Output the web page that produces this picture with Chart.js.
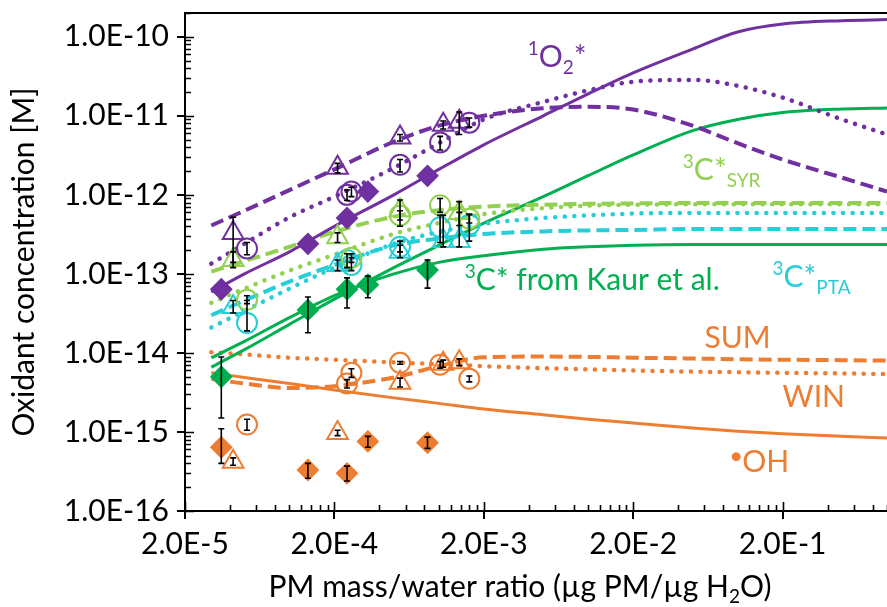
<!DOCTYPE html>
<html>
<head>
<meta charset="utf-8">
<script src="https://cdn.jsdelivr.net/npm/chart.js@4.4.0/dist/chart.umd.min.js"></script>
<style>
  html, body { margin: 0; padding: 0; background: #fff; }
</style>
</head>
<body>
<canvas id="oxChart" width="887" height="607"></canvas>
<script>
// axis ticks
const xTickValues = [2e-5, 2e-4, 2e-3, 2e-2, 2e-1];
const xTickLabels = ['2.0E-5', '2.0E-4', '2.0E-3', '2.0E-2', '2.0E-1'];
const yTickValues = [1e-16, 1e-15, 1e-14, 1e-13, 1e-12, 1e-11, 1e-10];
const yTickLabels = ['1.0E-16', '1.0E-15', '1.0E-14', '1.0E-13', '1.0E-12', '1.0E-11', '1.0E-10'];

// model curves, all on the same PM/water grid
const modelX = [3e-5, 5e-5, 1e-4, 2e-4, 5e-4, 1e-3, 2e-3, 5e-3, 1e-2, 2e-2, 5e-2, 1e-1, 2e-1, 5e-1, 1];
const o2Solid = [5.9e-14, 1.0e-13, 1.9e-13, 4.0e-13, 1.0e-12, 2.1e-12, 4.3e-12, 1.0e-11, 1.9e-11, 3.5e-11, 7.0e-11, 1.15e-10, 1.45e-10, 1.6e-10, 1.65e-10];
const o2Dash = [4.1e-13, 6.3e-13, 1.15e-12, 2.1e-12, 4.7e-12, 7.5e-12, 1.0e-11, 1.25e-11, 1.3e-11, 1.2e-11, 7.5e-12, 4.5e-12, 2.8e-12, 1.65e-12, 1.1e-12];
const o2Dot = [1.35e-13, 2.4e-13, 5.2e-13, 9.5e-13, 2.2e-12, 4.5e-12, 9.0e-12, 1.5e-11, 2.1e-11, 2.7e-11, 2.85e-11, 2.4e-11, 1.7e-11, 9.0e-12, 5.8e-12];
const syrDash = [1.07e-13, 1.45e-13, 2.2e-13, 3.4e-13, 5.3e-13, 6.4e-13, 7.1e-13, 7.5e-13, 7.7e-13, 7.8e-13, 7.9e-13, 7.9e-13, 7.9e-13, 7.9e-13, 7.9e-13];
const syrDot = [4.3e-14, 6.5e-14, 1.1e-13, 1.75e-13, 3.2e-13, 4.4e-13, 5.7e-13, 6.8e-13, 7.3e-13, 7.5e-13, 7.6e-13, 7.6e-13, 7.6e-13, 7.6e-13, 7.6e-13];
const ptaDash = [3.0e-14, 4.6e-14, 8.0e-14, 1.3e-13, 2.3e-13, 2.8e-13, 3.2e-13, 3.45e-13, 3.55e-13, 3.6e-13, 3.7e-13, 3.7e-13, 3.7e-13, 3.7e-13, 3.7e-13];
const ptaDot = [2.1e-14, 3.4e-14, 6.5e-14, 1.2e-13, 2.4e-13, 3.4e-13, 4.3e-13, 5.1e-13, 5.5e-13, 5.8e-13, 5.9e-13, 5.9e-13, 5.9e-13, 5.9e-13, 5.9e-13];
const kaurFit = [8.7e-15, 1.4e-14, 2.8e-14, 5.3e-14, 1.0e-13, 1.4e-13, 1.7e-13, 2.05e-13, 2.2e-13, 2.3e-13, 2.35e-13, 2.35e-13, 2.35e-13, 2.35e-13, 2.35e-13];
const kaurSteep = [6.6e-15, 1.1e-14, 2.3e-14, 4.8e-14, 1.2e-13, 2.3e-13, 4.4e-13, 9.5e-13, 1.75e-12, 3.2e-12, 6.5e-12, 9.0e-12, 1.1e-11, 1.22e-11, 1.26e-11];
const ohSolid = [5.6e-15, 4.9e-15, 4.1e-15, 3.4e-15, 2.7e-15, 2.3e-15, 1.95e-15, 1.65e-15, 1.45e-15, 1.3e-15, 1.12e-15, 1.02e-15, 9.5e-16, 8.8e-16, 8.4e-16];
const ohDash = [4.7e-15, 4.1e-15, 3.6e-15, 3.8e-15, 4.9e-15, 6.8e-15, 8.8e-15, 9.0e-15, 8.9e-15, 8.7e-15, 8.5e-15, 8.3e-15, 8.2e-15, 8.1e-15, 8.0e-15];
const ohDot = [1.02e-14, 9.6e-15, 8.7e-15, 8.2e-15, 7.6e-15, 7.2e-15, 6.8e-15, 6.4e-15, 6.2e-15, 6.0e-15, 5.8e-15, 5.7e-15, 5.6e-15, 5.5e-15, 5.4e-15];

// measured points (diamonds, triangles, circles) with error bar ends
const diaX = [3.5e-5, 1.33e-4, 2.43e-4, 3.35e-4, 8.4e-4];
const triX = [4.2e-5, 2.1e-4, 5.5e-4, 1.07e-3, 1.37e-3];
const cirX = [5.2e-5, 2.43e-4, 2.6e-4, 5.5e-4, 1.02e-3, 1.6e-3];

const o2DiaY = [6.4e-14, 2.4e-13, 5.1e-13, 1.1e-12, 1.74e-12];
const o2TriY = [3.3e-13, 2.2e-12, 5.3e-12, 7.7e-12, 8.4e-12];
const o2TriLo = [1.4e-13, 1.9e-12, 4.8e-12, 6.8e-12, 5.8e-12];
const o2TriHi = [5.2e-13, 2.5e-12, 5.8e-12, 8.6e-12, 1.12e-11];
const o2CirY = [2.1e-13, 1.0e-12, 1.1e-12, 2.4e-12, 4.6e-12, 8.2e-12];
const o2CirLo = [1.75e-13, 0.85e-12, 0.95e-12, 1.95e-12, 3.7e-12, 7.2e-12];
const o2CirHi = [2.5e-13, 1.15e-12, 1.25e-12, 2.8e-12, 5.5e-12, 9.4e-12];

const syrTriX = [4.2e-5, 2.1e-4, 5.5e-4, 1.37e-3];
const syrTriY = [1.5e-13, 2.9e-13, 6.4e-13, 5.9e-13];
const syrTriLo = [1.2e-13, 2.5e-13, 4.0e-13, 4.1e-13];
const syrTriHi = [1.9e-13, 3.3e-13, 8.6e-13, 8.2e-13];
const syrCirX = [5.2e-5, 2.6e-4, 5.5e-4, 1.02e-3, 1.6e-3];
const syrCirY = [4.7e-14, 1.6e-13, 5.5e-13, 7.4e-13, 5.0e-13];
const syrCirLo = [4.2e-14, 1.4e-13, 4.8e-13, 6.0e-13, 4.4e-13];
const syrCirHi = [5.3e-14, 1.8e-13, 6.3e-13, 9.0e-13, 5.7e-13];

const ptaTriY = [3.8e-14, 1.3e-13, 1.9e-13, 2.6e-13, 2.6e-13];
const ptaTriLo = [3.2e-14, 1.1e-13, 1.6e-13, 2.2e-13, 2.2e-13];
const ptaTriHi = [4.6e-14, 1.5e-13, 2.3e-13, 5.5e-13, 6.0e-13];
const ptaCirY = [2.4e-14, 1.5e-13, 1.3e-13, 2.2e-13, 3.9e-13, 4.2e-13];
const ptaCirLo = [1.9e-14, 1.2e-13, 1.1e-13, 1.9e-13, 2.5e-13, 2.6e-13];
const ptaCirHi = [4.6e-14, 1.8e-13, 1.6e-13, 2.6e-13, 5.5e-13, 5.6e-13];

const kaurY = [5.0e-15, 3.5e-14, 6.4e-14, 7.3e-14, 1.12e-13];
const kaurLo = [1.5e-15, 1.8e-14, 3.7e-14, 5.0e-14, 6.6e-14];
const kaurHi = [8.9e-15, 5.1e-14, 8.9e-14, 9.4e-14, 1.5e-13];

const ohDiaY = [6.4e-16, 3.3e-16, 3.0e-16, 7.6e-16, 7.3e-16];
const ohDiaLo = [4.0e-16, 2.6e-16, 2.4e-16, 6.4e-16, 6.2e-16];
const ohDiaHi = [1.1e-15, 4.0e-16, 3.7e-16, 8.8e-16, 8.6e-16];
const ohTriY = [4.2e-16, 9.7e-16, 4.2e-15, 7.3e-15, 7.6e-15];
const ohTriLo = [3.8e-16, 9.0e-16, 3.7e-15, 6.6e-15, 6.9e-15];
const ohTriHi = [4.7e-16, 1.05e-15, 4.8e-15, 8.1e-15, 8.4e-15];
const ohCirY = [1.24e-15, 4.1e-15, 5.6e-15, 7.5e-15, 7.1e-15, 4.7e-15];
const ohCirLo = [1.05e-15, 3.6e-15, 4.9e-15, 7.2e-15, 6.4e-15, 4.3e-15];
const ohCirHi = [1.45e-15, 4.6e-15, 6.3e-15, 7.8e-15, 7.8e-15, 5.1e-15];

const PURPLE = '#7030A0';
const LGREEN = '#92D050';
const CYAN = '#27CED7';
const GREEN = '#00B050';
const ORANGE = '#ED7D31';
const FONT = 'Lato, "Noto Sans", sans-serif';

const pts = (xs, ys) => xs.map((x, i) => ({ x: x, y: ys[i] }));

function curve(ys, color, style) {
  const ds = {
    data: pts(modelX, ys),
    borderColor: color,
    borderWidth: 3,
    pointRadius: 0,
    fill: false,
    cubicInterpolationMode: 'monotone',
    order: 2
  };
  if (style === 'dash') { ds.borderDash = [13, 6]; ds.borderWidth = 4; }
  if (style === 'dot') { ds.borderDash = [0.1, 9.5]; ds.borderWidth = 4.5; ds.borderCapStyle = 'round'; }
  return ds;
}

function marks(xs, ys, color, shape, lo, hi) {
  const filled = shape === 'rectRot';
  return {
    data: pts(xs, ys),
    showLine: false,
    borderColor: color,
    pointStyle: shape,
    pointRadius: shape === 'triangle' ? 12 : 10,
    pointBorderWidth: 2,
    pointBorderColor: color,
    pointBackgroundColor: filled ? color : 'rgba(255,255,255,0)',
    errLo: lo,
    errHi: hi,
    order: 1
  };
}

// vertical error bars, drawn in data space
const errorBars = {
  id: 'errorBars',
  afterDatasetsDraw(chart) {
    const { ctx } = chart;
    const yS = chart.scales.y;
    ctx.save();
    ctx.strokeStyle = '#000';
    ctx.lineWidth = 1.6;
    chart.data.datasets.forEach((ds, i) => {
      if (!ds.errLo) return;
      const meta = chart.getDatasetMeta(i);
      meta.data.forEach((p, j) => {
        const top = yS.getPixelForValue(ds.errHi[j]);
        const bot = yS.getPixelForValue(ds.errLo[j]);
        ctx.beginPath();
        ctx.moveTo(p.x, top); ctx.lineTo(p.x, bot);
        ctx.moveTo(p.x - 3, top); ctx.lineTo(p.x + 3, top);
        ctx.moveTo(p.x - 3, bot); ctx.lineTo(p.x + 3, bot);
        ctx.stroke();
      });
    });
    ctx.restore();
  }
};

// inner minor/major ticks, the top frame line and the x title
const axisMarks = {
  id: 'axisMarks',
  afterDatasetsDraw(chart) {
    const { ctx, chartArea: a } = chart;
    const xS = chart.scales.x, yS = chart.scales.y;
    ctx.save();
    ctx.strokeStyle = '#000';
    ctx.beginPath();
    ctx.lineWidth = 2;
    ctx.moveTo(a.left, a.top); ctx.lineTo(a.right, a.top);
    ctx.stroke();
    ctx.lineWidth = 1.6;
    ctx.beginPath();
    for (let e = -16; e <= -10; e++) {
      for (let k = 1; k <= 9; k++) {
        const v = k * Math.pow(10, e);
        if (v > yS.max) break;
        const py = Math.round(yS.getPixelForValue(v)) + 0.5;
        ctx.moveTo(a.left, py); ctx.lineTo(a.left + (k === 1 ? 9 : 6), py);
      }
    }
    for (let e = -5; e <= -1; e++) {
      for (let k = 1; k <= 9; k++) {
        const v = 2 * k * Math.pow(10, e);
        if (v > xS.max) break;
        const px = Math.round(xS.getPixelForValue(v)) + 0.5;
        ctx.moveTo(px, a.bottom); ctx.lineTo(px, a.bottom - (k === 1 ? 9 : 6));
      }
    }
    ctx.stroke();

    // x axis title with a real subscript
    const parts = [['PM mass/water ratio (µg PM/µg H', 30, 0], ['2', 19, 6], ['O)', 30, 0]];
    let w = 0;
    parts.forEach(([t, s]) => { ctx.font = s + 'px ' + FONT; w += ctx.measureText(t).width; });
    let px = (a.left + a.right) / 2 - 16 - w / 2;
    const base = chart.height - 10;
    ctx.fillStyle = '#000';
    ctx.textBaseline = 'alphabetic';
    parts.forEach(([t, s, dy]) => {
      ctx.font = s + 'px ' + FONT;
      ctx.fillText(t, px, base + dy);
      px += ctx.measureText(t).width;
    });
    ctx.restore();
  }
};

// curve names with super/subscripts, anchored in data space
const labels = [
  { x: 3.94e-3, y: 4.2e-11, color: PURPLE, parts: [['1', 'sup'], ['O', ''], ['2', 'sub'], ['*', '']] },
  { x: 4.29e-2, y: 1.55e-12, color: LGREEN, parts: [['3', 'sup'], ['C*', ''], ['SYR', 'sub']] },
  { x: 1.49e-3, y: 6.3e-14, color: GREEN, parts: [['3', 'sup'], ['C* from Kaur et al.', '']] },
  { x: 0.171, y: 6.8e-14, color: CYAN, parts: [['3', 'sup'], ['C*', ''], ['PTA', 'sub']] },
  { x: 6.0e-2, y: 1.16e-14, color: ORANGE, parts: [['SUM', '']] },
  { x: 0.2, y: 2.07e-15, color: ORANGE, parts: [['WIN', '']] },
  { x: 8.8e-2, y: 3.1e-16, color: ORANGE, parts: [['\u2022', 'dot'], ['OH', '']] }
];

const curveLabels = {
  id: 'curveLabels',
  afterDraw(chart) {
    const { ctx } = chart;
    ctx.save();
    ctx.textBaseline = 'alphabetic';
    ctx.textAlign = 'left';
    labels.forEach(l => {
      let px = chart.scales.x.getPixelForValue(l.x);
      const py = chart.scales.y.getPixelForValue(l.y);
      ctx.fillStyle = l.color;
      l.parts.forEach(([t, kind]) => {
        let size = 30, dy = 0;
        if (kind === 'sup') { size = 19; dy = -12; }
        if (kind === 'sub') { size = 19; dy = 7; }
        if (kind === 'dot') { size = 24; dy = -8; }
        ctx.font = size + 'px ' + FONT;
        ctx.fillText(t, px, py + dy);
        px += ctx.measureText(t).width + (kind === 'dot' ? -1 : 0);
      });
    });
    ctx.restore();
  }
};

const datasets = [
  curve(o2Solid, PURPLE, 'solid'),
  curve(o2Dash, PURPLE, 'dash'),
  curve(o2Dot, PURPLE, 'dot'),
  curve(syrDash, LGREEN, 'dash'),
  curve(syrDot, LGREEN, 'dot'),
  curve(ptaDash, CYAN, 'dash'),
  curve(ptaDot, CYAN, 'dot'),
  curve(kaurFit, GREEN, 'solid'),
  curve(kaurSteep, GREEN, 'solid'),
  curve(ohSolid, ORANGE, 'solid'),
  curve(ohDash, ORANGE, 'dash'),
  curve(ohDot, ORANGE, 'dot'),
  marks(diaX, o2DiaY, PURPLE, 'rectRot', null, null),
  marks(triX, o2TriY, PURPLE, 'triangle', o2TriLo, o2TriHi),
  marks(cirX, o2CirY, PURPLE, 'circle', o2CirLo, o2CirHi),
  marks(syrTriX, syrTriY, LGREEN, 'triangle', syrTriLo, syrTriHi),
  marks(syrCirX, syrCirY, LGREEN, 'circle', syrCirLo, syrCirHi),
  marks(triX, ptaTriY, CYAN, 'triangle', ptaTriLo, ptaTriHi),
  marks(cirX, ptaCirY, CYAN, 'circle', ptaCirLo, ptaCirHi),
  marks(diaX, kaurY, GREEN, 'rectRot', kaurLo, kaurHi),
  marks(diaX, ohDiaY, ORANGE, 'rectRot', ohDiaLo, ohDiaHi),
  marks(triX, ohTriY, ORANGE, 'triangle', ohTriLo, ohTriHi),
  marks(cirX, ohCirY, ORANGE, 'circle', ohCirLo, ohCirHi)
];

const ctx = document.getElementById('oxChart').getContext('2d');
const oxChart = new Chart(ctx, {
  type: 'line',
  data: { datasets: datasets },
  plugins: [axisMarks, errorBars, curveLabels],
  options: {
    responsive: false,
    animation: false,
    layout: { autoPadding: false, padding: { top: 13, left: 0, right: 0, bottom: 0 } },
    plugins: { legend: { display: false }, tooltip: { enabled: false } },
    scales: {
      x: {
        type: 'logarithmic',
        min: 2e-5,
        max: 1,
        afterBuildTicks: s => { s.ticks = xTickValues.map(v => ({ value: v })); },
        afterFit: s => { s.height = 96; s.paddingLeft = 0; s.paddingRight = 0; },
        ticks: {
          autoSkip: false, maxRotation: 0, padding: 7, color: '#000',
          font: { family: FONT, size: 30 },
          callback: (v, i) => xTickLabels[i]
        },
        grid: { drawOnChartArea: false, drawTicks: true, tickLength: 8, color: '#000', lineWidth: 2 },
        border: { display: true, color: '#000', width: 2 },
        title: { display: false }
      },
      y: {
        type: 'logarithmic',
        min: 1e-16,
        max: 2e-10,
        afterBuildTicks: s => { s.ticks = yTickValues.map(v => ({ value: v })); },
        afterFit: s => { s.width = 185; s.paddingTop = 0; s.paddingBottom = 0; },
        ticks: {
          autoSkip: false, padding: 8, color: '#000',
          font: { family: FONT, size: 30 },
          callback: (v, i) => yTickLabels[i]
        },
        grid: { drawOnChartArea: false, drawTicks: true, tickLength: 8, color: '#000', lineWidth: 2 },
        border: { display: true, color: '#000', width: 2 },
        title: {
          display: true, text: 'Oxidant concentration [M]', color: '#000',
          font: { family: FONT, size: 30 }, padding: { top: 6, bottom: 0 }
        }
      }
    }
  }
});
</script>
</body>
</html>
